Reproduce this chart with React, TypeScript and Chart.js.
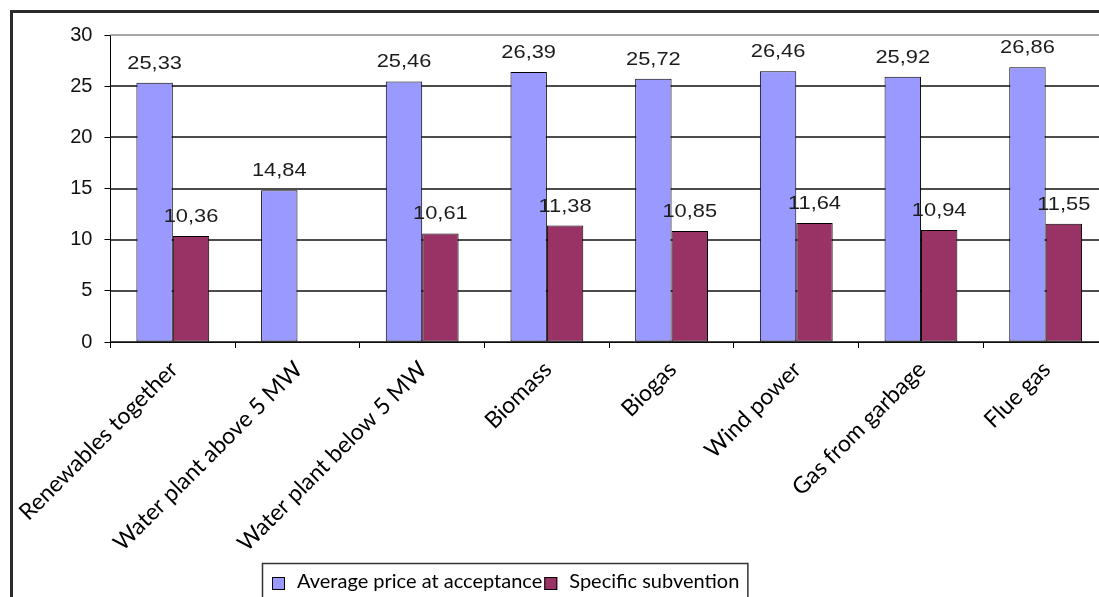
import React, { useEffect, useRef } from "react";
import { Chart, registerables } from "chart.js";

Chart.register(...registerables);

// Categories and series values
const categories = [
  "Renewables together",
  "Water plant above 5 MW",
  "Water plant below 5 MW",
  "Biomass",
  "Biogas",
  "Wind power",
  "Gas from garbage",
  "Flue gas",
];
const averagePrice = [25.33, 14.84, 25.46, 26.39, 25.72, 26.46, 25.92, 26.86];
const specificSubvention = [10.36, null, 10.61, 11.38, 10.85, 11.64, 10.94, 11.55];
const seriesNames = ["Average price at acceptance", "Specific subvention"];
const yMin = 0;
const yMax = 30;
const yStep = 5;

const seriesColors = ["#9999FF", "#993366"];

const CANVAS_W = 1110;
const CANVAS_H = 620;

const formatValue = (v: number) => v.toFixed(2).replace(".", ",");

// White page with a heavy outer frame
const framePlugin = {
  id: "frame",
  beforeDraw(chart: any) {
    const { ctx, width, height } = chart;
    ctx.save();
    ctx.fillStyle = "#ffffff";
    ctx.fillRect(0, 0, width, height);
    ctx.strokeStyle = "#2b2b2b";
    ctx.lineWidth = 3;
    ctx.strokeRect(3.5, 3.5, width + 20, height + 20);
    ctx.restore();
  },
};

// Horizontal grid lines at every y tick, behind the bars; the top one is grey
const valueGridPlugin = {
  id: "valueGrid",
  beforeDatasetsDraw(chart: any) {
    const { ctx, chartArea } = chart;
    const y = chart.scales.y;
    ctx.save();
    ctx.globalCompositeOperation = "source-over";
    ctx.globalAlpha = 1;
    ctx.setLineDash([]);
    ctx.lineWidth = 1.5;
    y.ticks.forEach((t: any) => {
      const py = Math.round(y.getPixelForValue(t.value));
      ctx.strokeStyle = t.value === yMax ? "#8a8a8a" : "#111111";
      ctx.beginPath();
      ctx.moveTo(chartArea.left, py);
      ctx.lineTo(chartArea.right, py);
      ctx.stroke();
    });
    ctx.restore();
  },
};

// Value labels above every bar, with a decimal comma
const valueLabelPlugin = {
  id: "valueLabels",
  afterDatasetsDraw(chart: any) {
    const { ctx } = chart;
    ctx.save();
    ctx.fillStyle = "#1c1c1c";
    ctx.font = '19px "Liberation Sans", Arial, sans-serif';
    ctx.textAlign = "center";
    ctx.textBaseline = "alphabetic";
    chart.data.datasets.forEach((ds: any, di: number) => {
      const meta = chart.getDatasetMeta(di);
      meta.data.forEach((el: any, i: number) => {
        const v = ds.data[i];
        if (v === null || v === undefined) return;
        ctx.save();
        ctx.translate(el.x, el.y - 14);
        ctx.scale(1.15, 1);
        ctx.fillText(formatValue(v), 0, 0);
        ctx.restore();
      });
    });
    ctx.restore();
  },
};

// Boxed legend below the category labels
const legendBoxPlugin = {
  id: "legendBox",
  afterDraw(chart: any) {
    const { ctx } = chart;
    const left = 254;
    const top = 555;
    const marker = 13;
    ctx.save();
    ctx.font = '20px Lato, "Open Sans", sans-serif';
    ctx.textBaseline = "alphabetic";
    let x = left + 10;
    const baseline = top + 25;
    seriesNames.forEach((name, i) => {
      ctx.fillStyle = seriesColors[i];
      ctx.fillRect(x, top + 14, marker, marker);
      ctx.strokeStyle = "#000";
      ctx.lineWidth = 1;
      ctx.strokeRect(x + 0.5, top + 14.5, marker - 1, marker - 1);
      x += marker + 12;
      ctx.fillStyle = "#000";
      ctx.fillText(name, x, baseline);
      x += ctx.measureText(name).width + 2;
    });
    const right = x + 6;
    ctx.strokeStyle = "#333";
    ctx.lineWidth = 1.5;
    ctx.strokeRect(left + 0.5, top + 0.5, right - left, 60);
    ctx.restore();
  },
};

export default function App() {
  const canvasRef = useRef<HTMLCanvasElement | null>(null);

  useEffect(() => {
    const canvas = canvasRef.current;
    if (!canvas) return;
    const chart = new Chart(canvas, {
      type: "bar",
      data: {
        labels: categories,
        datasets: [
          {
            label: seriesNames[0],
            data: averagePrice,
            backgroundColor: seriesColors[0],
            borderColor: "#000",
            borderWidth: 1,
            borderSkipped: false,
          },
          {
            label: seriesNames[1],
            data: specificSubvention,
            backgroundColor: seriesColors[1],
            borderColor: "#000",
            borderWidth: 1,
            borderSkipped: false,
          },
        ],
      },
      options: {
        responsive: false,
        animation: false,
        devicePixelRatio: 1,
        layout: { padding: { top: 27, left: 0, right: 10, bottom: 0 } },
        datasets: {
          bar: { barPercentage: 1, categoryPercentage: 0.584 },
        },
        plugins: {
          legend: { display: false },
          tooltip: { enabled: false },
          title: { display: false },
        },
        scales: {
          x: {
            grid: {
              display: true,
              drawOnChartArea: false,
              drawTicks: true,
              tickLength: 6,
              offset: true,
              color: "#000",
            },
            border: { display: true, color: "#000", width: 1 },
            ticks: {
              autoSkip: false,
              minRotation: 45,
              maxRotation: 45,
              color: "#000",
              padding: 8,
              labelOffset: 1,
              font: { family: 'Lato, "Open Sans", sans-serif', size: 23 },
            },
            afterFit(scale: any) {
              scale.height = CANVAS_H - 334;
            },
          },
          y: {
            min: yMin,
            max: yMax,
            ticks: {
              stepSize: yStep,
              color: "#111",
              padding: 12,
              font: { family: '"Liberation Sans", Arial, sans-serif', size: 20 },
            },
            grid: {
              display: true,
              drawOnChartArea: false,
              color: "#000",
              lineWidth: 1,
              tickLength: 6,
              drawTicks: true,
            },
            border: { display: true, color: "#000", width: 1 },
            afterFit(scale: any) {
              scale.width = 100;
            },
          },
        },
      },
      plugins: [framePlugin, valueGridPlugin, valueLabelPlugin, legendBoxPlugin],
    });
    return () => chart.destroy();
  }, []);

  return (
    <div
      style={{
        position: "fixed",
        left: 8,
        top: 8,
        right: 0,
        bottom: 0,
        overflow: "hidden",
        background: "#fff",
      }}
    >
      <canvas
        ref={canvasRef}
        width={CANVAS_W}
        height={CANVAS_H}
        style={{ width: CANVAS_W, height: CANVAS_H, display: "block" }}
      />
    </div>
  );
}
